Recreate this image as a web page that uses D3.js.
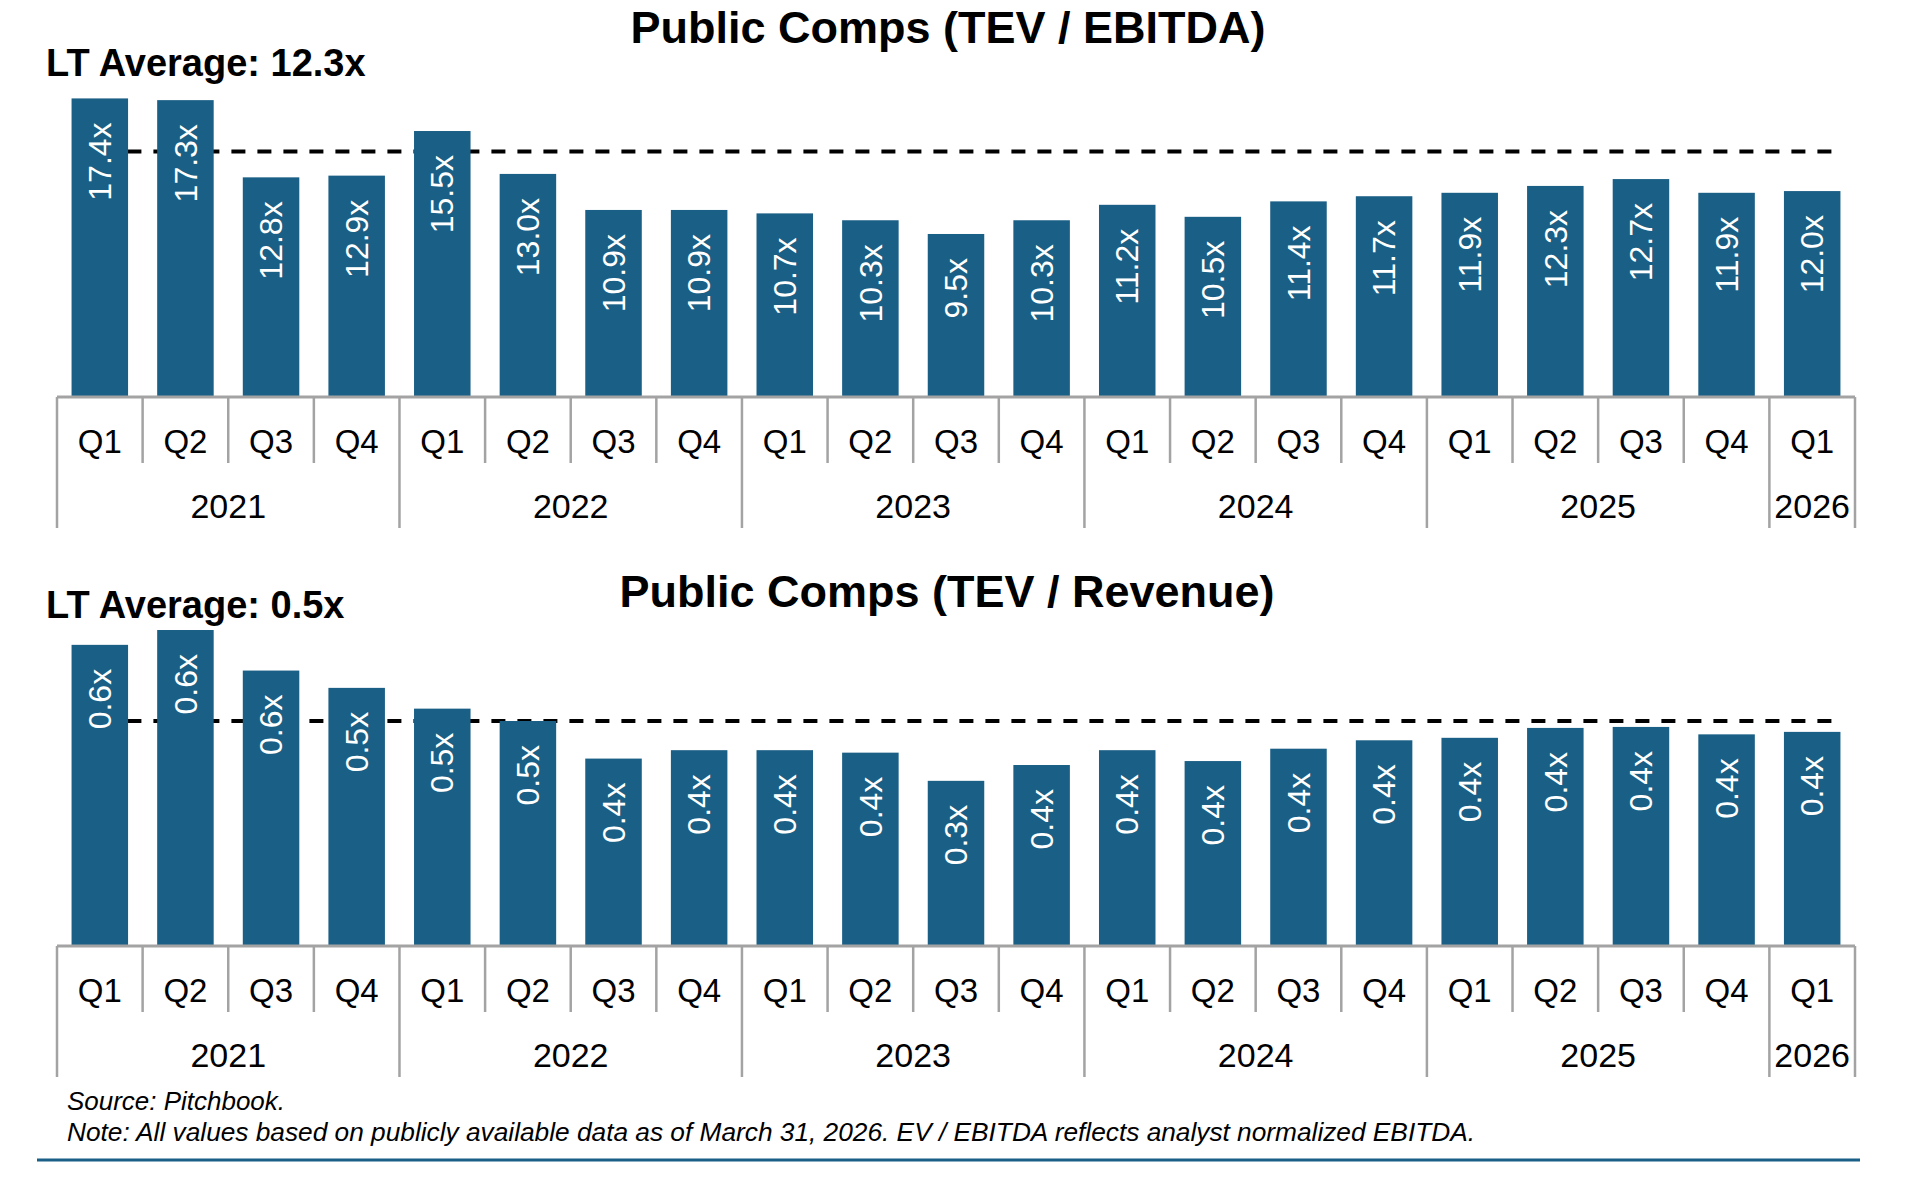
<!DOCTYPE html>
<html>
<head>
<meta charset="utf-8">
<script src="https://cdn.jsdelivr.net/npm/d3@7"></script>
<style>
  body { margin: 0; background: #fff; }
  svg { display: block; font-family: "Liberation Sans", Arial, sans-serif; }
</style>
</head>
<body>
<div id="chart"></div>
<script>
// Data
const quarterLabels = ["Q1","Q2","Q3","Q4","Q1","Q2","Q3","Q4","Q1","Q2","Q3","Q4",
  "Q1","Q2","Q3","Q4","Q1","Q2","Q3","Q4","Q1"];
const yearLabels = ["2021","2022","2023","2024","2025","2026"];
const quartersPerYear = [4, 4, 4, 4, 4, 1];

const tevEbitda = [17.4, 17.3, 12.8, 12.9, 15.5, 13.0, 10.9, 10.9, 10.7, 10.3, 9.5, 10.3,
  11.2, 10.5, 11.4, 11.7, 11.9, 12.3, 12.7, 11.9, 12.0];
const tevRevenue = [0.609, 0.639, 0.557, 0.522, 0.480, 0.455, 0.379, 0.396, 0.396, 0.391, 0.334, 0.366,
  0.396, 0.374, 0.399, 0.416, 0.421, 0.441, 0.443, 0.428, 0.433];

// level where the dashed reference line is drawn on each chart
const ebitdaRefLine = 14.3;
const revenueRefLine = 0.455;

const ebitdaAvgLabel = "LT Average: 12.3x";
const revenueAvgLabel = "LT Average: 0.5x";

const width = 1919, height = 1181;
const barColor = "#1a5f85";
const axisColor = "#a3a3a3";

const svg = d3.select("#chart").append("svg")
  .attr("width", width)
  .attr("height", height);

const x = d3.scaleBand()
  .domain(d3.range(quarterLabels.length))
  .range([57, 1855])
  .paddingInner(0.34)
  .paddingOuter(0.17);

const fmt = d3.format(".1f");

function drawPanel(cfg) {
  const g = svg.append("g");
  const y = d3.scaleLinear().domain([0, cfg.max]).range([cfg.base, cfg.base - cfg.max * cfg.pxPerUnit]);

  // title + average label
  g.append("text")
    .attr("x", cfg.titleX).attr("y", cfg.titleY)
    .attr("text-anchor", "middle")
    .style("font-size", "45px").style("font-weight", "bold")
    .text(cfg.title);

  g.append("text")
    .attr("x", 46).attr("y", cfg.avgY)
    .style("font-size", "38px").style("font-weight", "bold")
    .text(cfg.avgLabel);

  // dashed reference line (behind bars)
  const last = quarterLabels.length - 1;
  g.append("line")
    .attr("x1", x(last) + x.bandwidth() * 0.84)
    .attr("x2", x(0) + x.bandwidth() / 2)
    .attr("y1", y(cfg.ref)).attr("y2", y(cfg.ref))
    .attr("stroke", "#000")
    .attr("stroke-width", 4)
    .attr("stroke-dasharray", "14,12");

  // bars
  g.selectAll(".bar")
    .data(cfg.values)
    .enter()
    .append("rect")
    .attr("class", "bar")
    .attr("x", (d, i) => x(i))
    .attr("y", d => y(d))
    .attr("width", x.bandwidth())
    .attr("height", d => y(0) - y(d))
    .attr("fill", barColor);

  // value labels
  g.selectAll(".val")
    .data(cfg.values)
    .enter()
    .append("text")
    .attr("class", "val")
    .attr("transform", (d, i) => "translate(" + (x(i) + x.bandwidth() / 2) + "," + (y(d) + 24) + ") rotate(-90)")
    .attr("text-anchor", "end")
    .attr("dy", "0.35em")
    .attr("fill", "#fff")
    .style("font-size", "32px")
    .text(d => fmt(d) + "x");

  // category axis
  const step = x.step();
  const x0 = x.range()[0], x1 = x.range()[1];
  g.append("line")
    .attr("x1", x0).attr("x2", x1)
    .attr("y1", cfg.base).attr("y2", cfg.base)
    .attr("stroke", axisColor).attr("stroke-width", 3);

  // year boundaries
  const yearStart = [];
  let acc = 0;
  quartersPerYear.forEach(n => { yearStart.push(acc); acc += n; });
  const yearEdges = yearStart.concat([acc]);

  d3.range(quarterLabels.length + 1).forEach(i => {
    const isYear = yearEdges.indexOf(i) >= 0;
    g.append("line")
      .attr("x1", x0 + i * step).attr("x2", x0 + i * step)
      .attr("y1", cfg.base)
      .attr("y2", cfg.base + (isYear ? 131 : 66))
      .attr("stroke", axisColor).attr("stroke-width", 2.5);
  });

  g.selectAll(".qlab")
    .data(quarterLabels)
    .enter()
    .append("text")
    .attr("x", (d, i) => x(i) + x.bandwidth() / 2)
    .attr("y", cfg.base + 56)
    .attr("text-anchor", "middle")
    .style("font-size", "33px")
    .text(d => d);

  g.selectAll(".ylab")
    .data(yearLabels)
    .enter()
    .append("text")
    .attr("x", (d, i) => x0 + (yearStart[i] + quartersPerYear[i] / 2) * step)
    .attr("y", cfg.base + 121)
    .attr("text-anchor", "middle")
    .style("font-size", "34px")
    .text(d => d);
}

drawPanel({
  values: tevEbitda, max: 20, pxPerUnit: 17.16, base: 397,
  ref: ebitdaRefLine, title: "Public Comps (TEV / EBITDA)", titleX: 948, titleY: 43,
  avgLabel: ebitdaAvgLabel, avgY: 76
});

drawPanel({
  values: tevRevenue, max: 0.7, pxPerUnit: 494.5, base: 946,
  ref: revenueRefLine, title: "Public Comps (TEV / Revenue)", titleX: 947, titleY: 607,
  avgLabel: revenueAvgLabel, avgY: 618
});

// footer
svg.append("text")
  .attr("x", 67).attr("y", 1110)
  .style("font-size", "25px").style("font-style", "italic")
  .attr("textLength", 218).attr("lengthAdjust", "spacingAndGlyphs")
  .text("Source: Pitchbook.");

svg.append("text")
  .attr("x", 67).attr("y", 1141)
  .style("font-size", "25px").style("font-style", "italic")
  .attr("textLength", 1408).attr("lengthAdjust", "spacingAndGlyphs")
  .text("Note: All values based on publicly available data as of March 31, 2026. EV / EBITDA reflects analyst normalized EBITDA.");

svg.append("line")
  .attr("x1", 37).attr("x2", 1860)
  .attr("y1", 1160).attr("y2", 1160)
  .attr("stroke", barColor).attr("stroke-width", 3);
</script>
</body>
</html>
